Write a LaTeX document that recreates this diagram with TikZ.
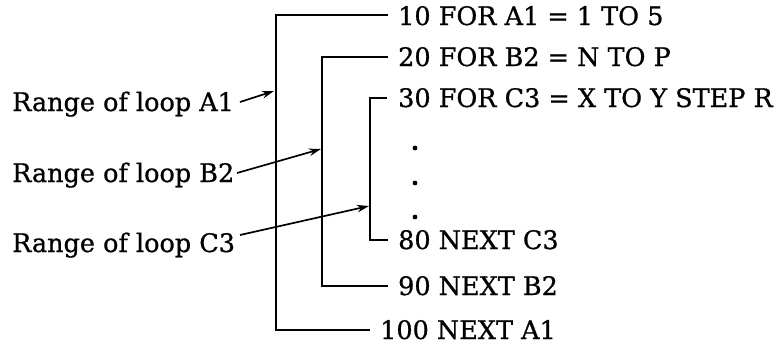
\documentclass[tikz,border=0pt]{standalone}
\usepackage{fontspec}
\setmainfont{DejaVu Serif}[FakeBold=0.8]
\usetikzlibrary{arrows.meta}
\begin{document}
\begin{tikzpicture}[x=1pt,y=-1pt,
  code/.style={anchor=base west,inner sep=0pt,font=\fontsize{25.5}{30}\selectfont},
  lab/.style={anchor=base west,inner sep=0pt,font=\fontsize{25.5}{30}\selectfont},
  bracket/.style={line width=2.8pt},
  pointer/.style={line width=1.7pt,-{Stealth[length=12pt,width=7.5pt]}}]
\useasboundingbox (0,0) rectangle (782,349);
% code lines
\node[code] (t10) at (398,25) {10 FOR A1 = 1 TO 5};
\node[code] (t20) at (398,66) {20 FOR B2 = N TO P};
\node[code] (t30) at (398,107) {30 FOR C3 = X TO Y STEP R};
\node[code] (t80) at (398,249) {80 NEXT C3};
\node[code] (t90) at (398,295) {90 NEXT B2};
\node[code] (t100) at (380,339) {100 NEXT A1};
% line ends next to the code
\coordinate (e10) at (388,15);
\coordinate (e20) at (388,57);
\coordinate (e30) at (387,98);
\coordinate (e80) at (388,240);
\coordinate (e90) at (388,286);
\coordinate (e100) at (370,330);
% bracket spines
\coordinate (A) at (276,170);
\coordinate (B) at (322,170);
\coordinate (C) at (370,170);
\draw[bracket] (e10) -| (A) |- (e100);
\draw[bracket] (e20) -| (B) |- (e90);
\draw[bracket] (e30) -| (C) |- (e80);
% dots
\foreach \y/\n in {148/d1,183/d2,217/d3}
  \fill (415,\y) circle (2.4) coordinate (\n);
% labels
\node[lab] (lA) at (12,111) {Range of loop A1};
\node[lab] (lB) at (12,182) {Range of loop B2};
\node[lab] (lC) at (12,252) {Range of loop C3};
\coordinate (pA) at (240,102);
\coordinate (pB) at (237,173);
\coordinate (pC) at (240,235);
\coordinate (hA) at (274,91);
\coordinate (hB) at (321,149);
\coordinate (hC) at (369,206);
\draw[pointer] (pA) -- (hA);
\draw[pointer] (pB) -- (hB);
\draw[pointer] (pC) -- (hC);
\end{tikzpicture}
\end{document}
